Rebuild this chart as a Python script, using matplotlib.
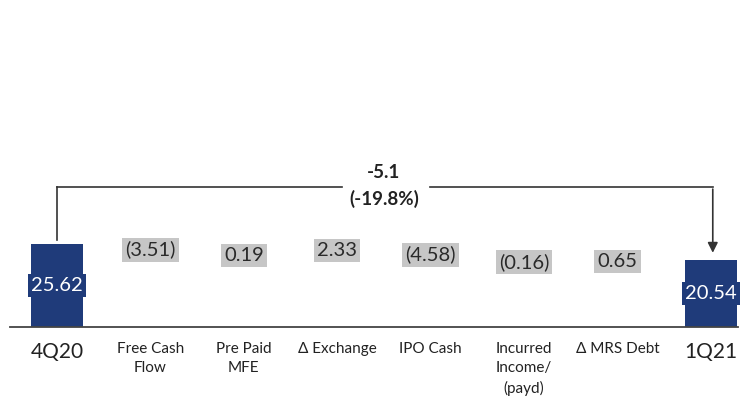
import matplotlib
matplotlib.use('Agg')

import matplotlib.pyplot as plt

categories = ['4Q20', 'Free Cash\nFlow', 'Pre Paid\nMFE', '\u0394 Exchange', 'IPO Cash',
              'Incurred\nIncome/\n(payd)', '\u0394 MRS Debt', '1Q21']
start_value = 25.62
changes = [-3.51, 0.19, 2.33, -4.58, -0.16, 0.65]
end_value = 20.54

navy = '#1f3b7a'
grey_box = '#c6c6c6'
plt.rcParams['font.family'] = ['Lato', 'DejaVu Sans']

fig = plt.figure(figsize=(7.46, 3.96), dpi=100)
ax = fig.add_axes([10/746, 69/396, 728/746, 327/396])
ax.set_xlim(-0.503, 7.29)
ax.set_ylim(0, 100.9)

# totals
ax.bar([0, 7], [start_value, end_value], width=0.55, color=navy, zorder=2)
for x, v in [(0, start_value), (7, end_value)]:
    ax.text(x, v / 2, f'{v:.2f}', ha='center', va='center', fontsize=14.5, color='white',
            bbox=dict(boxstyle='square,pad=0.15', fc=navy, ec='none'), zorder=3)

# floating changes (bars hidden, only labels shown)
running = start_value
for i, c in enumerate(changes, start=1):
    lo, hi = sorted([running, running + c])
    ax.bar(i, hi - lo, bottom=lo, width=0.55, color='none')
    label = f'({abs(c):.2f})' if c < 0 else f'{c:.2f}'
    ax.text(i, (lo + hi) / 2, label, ha='center', va='center', fontsize=14.5, color='#2a2a2a',
            bbox=dict(boxstyle='square,pad=0.15', fc=grey_box, ec='none'), zorder=3)
    running += c

# bracket with overall change
diff = end_value - start_value
pct = diff / start_value * 100
top = 43.2
lc = '#333333'
ax.plot([0, 0], [start_value + 1.2, top], color=lc, lw=1.2)
ax.plot([0, 3.05], [top, top], color=lc, lw=1.2)
ax.plot([3.99, 7.02], [top, top], color=lc, lw=1.2)
ax.annotate('', xy=(7.02, end_value + 1.5), xytext=(7.02, top + 0.2),
            arrowprops=dict(arrowstyle='-|>,head_length=0.6,head_width=0.3', color=lc, lw=1.2))
ax.text(3.5, top + 4.5, f'{diff:.1f}', ha='center', va='center', fontsize=13.5, fontweight='bold', color='#222222')
ax.text(3.5, top - 3.8, f'({pct:.1f}%)', ha='center', va='center', fontsize=13.5, fontweight='bold', color='#222222')

# axis styling
for s in ['top', 'right', 'left']:
    ax.spines[s].set_visible(False)
ax.spines['bottom'].set_color('#444444')
ax.spines['bottom'].set_linewidth(1.3)
ax.set_yticks([])
ax.set_xticks(range(len(categories)))
ax.set_xticklabels(categories, fontsize=11, color='#222222', va='top', linespacing=1.45)
ax.tick_params(axis='x', length=0, pad=11)
for lbl in ax.get_xticklabels():
    if lbl.get_text() in ('4Q20', '1Q21'):
        lbl.set_fontsize(15)

fig.savefig('out.png', dpi=100)
